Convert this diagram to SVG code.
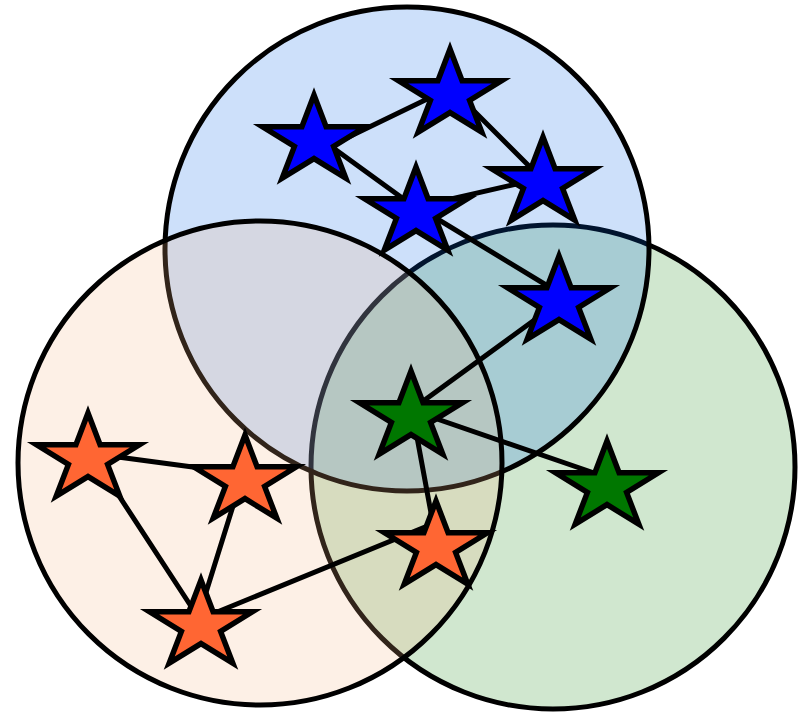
<svg xmlns="http://www.w3.org/2000/svg" xmlns:xlink="http://www.w3.org/1999/xlink" width="801" height="713" viewBox="0 0 801 713">
  <style>
    .set { stroke: #000; stroke-width: 5; fill-opacity: 0.2; }
    .edge { stroke: #000; stroke-width: 5; stroke-linecap: round; fill: none; }
    .star { stroke: #000; stroke-width: 5.5; stroke-linejoin: miter; stroke-miterlimit: 6; }
    .blue { fill: #0000ff; }
    .green { fill: #007700; }
    .orange { fill: #ff6633; }
  </style>
  <defs>
    <path id="starShape" d="M0,-46 L12.1,-14.2 L51.4,-14.2 L19.6,5.4 L31.8,37.2 L0,17.6 L-31.8,37.2 L-19.6,5.4 L-51.4,-14.2 L-12.1,-14.2 Z"/>
  </defs>
  <rect width="801" height="713" fill="#ffffff"/>
  <g id="sets">
    <circle id="set-green" class="set" cx="553" cy="467" r="242" fill="rgb(20,135,15)"/>
    <circle id="set-blue" class="set" cx="407" cy="249" r="242" fill="rgb(5,100,230)"/>
    <circle id="set-orange" class="set" cx="260" cy="463" r="242" fill="rgb(245,180,130)"/>
  </g>
  <g id="connectors">
    <line class="edge" x1="330" y1="146" x2="450" y2="88"/>
    <line class="edge" x1="450" y1="87" x2="543" y2="180"/>
    <line class="edge" x1="314" y1="134" x2="416" y2="208"/>
    <line class="edge" x1="416" y1="207" x2="543" y2="178"/>
    <line class="edge" x1="416" y1="206" x2="556" y2="291"/>
    <line class="edge" x1="555" y1="305" x2="411" y2="410"/>
    <line class="edge" x1="411" y1="410" x2="600" y2="475"/>
    <line class="edge" x1="412" y1="410" x2="436" y2="540"/>
    <line class="edge" x1="88" y1="453" x2="245" y2="474"/>
    <line class="edge" x1="91" y1="453" x2="200" y2="620"/>
    <line class="edge" x1="243" y1="474" x2="198" y2="618"/>
    <line class="edge" x1="205" y1="617" x2="425" y2="527"/>
  </g>
  <g id="star-b1"><use xlink:href="#starShape" href="#starShape" class="star blue" transform="translate(314,141)"/></g>
  <g id="star-b2"><use xlink:href="#starShape" href="#starShape" class="star blue" transform="translate(450,95)"/></g>
  <g id="star-b3"><use xlink:href="#starShape" href="#starShape" class="star blue" transform="translate(543,183)"/></g>
  <g id="star-b4"><use xlink:href="#starShape" href="#starShape" class="star blue" transform="translate(416,213)"/></g>
  <g id="star-b5"><use xlink:href="#starShape" href="#starShape" class="star blue" transform="translate(559,302)"/></g>
  <g id="star-g1"><use xlink:href="#starShape" href="#starShape" class="star green" transform="translate(411,417)"/></g>
  <g id="star-g2"><use xlink:href="#starShape" href="#starShape" class="star green" transform="translate(607,487)"/></g>
  <g id="star-o1"><use xlink:href="#starShape" href="#starShape" class="star orange" transform="translate(88,459)"/></g>
  <g id="star-o2"><use xlink:href="#starShape" href="#starShape" class="star orange" transform="translate(245,481)"/></g>
  <g id="star-o3"><use xlink:href="#starShape" href="#starShape" class="star orange" transform="translate(201,626)"/></g>
  <g id="star-o4"><use xlink:href="#starShape" href="#starShape" class="star orange" transform="translate(436,547)"/></g>
</svg>
